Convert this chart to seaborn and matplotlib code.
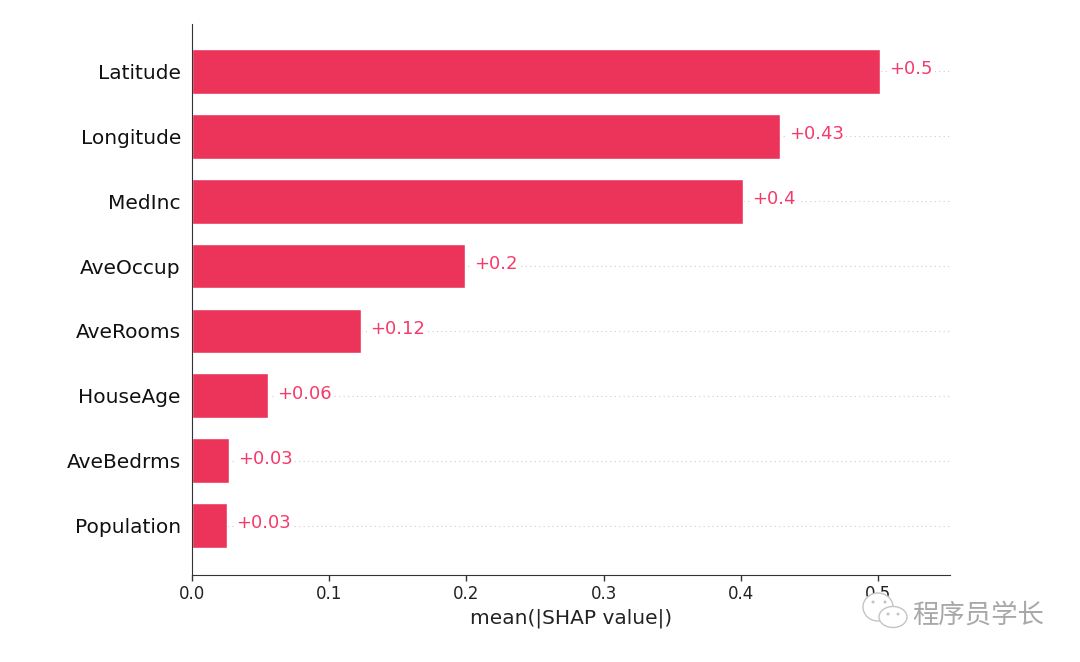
import pandas as pd
import seaborn as sns
from matplotlib import pyplot as plt
import matplotlib.patches as mpatches

features = ['Latitude', 'Longitude', 'MedInc', 'AveOccup', 'AveRooms', 'HouseAge', 'AveBedrms', 'Population']
shap_values = [0.5015, 0.4286, 0.4016, 0.199, 0.123, 0.0554, 0.027, 0.0255]
bar_labels = ['+0.5', '+0.43', '+0.4', '+0.2', '+0.12', '+0.06', '+0.03', '+0.03']
x_ticks = [0.0, 0.1, 0.2, 0.3, 0.4, 0.5]

BAR_COLOR = '#ec345a'
LABEL_COLOR = '#f53a6c'
W, H = 1080, 662

df = pd.DataFrame({'feature': features, 'value': shap_values})

sns.set_style('white')
plt.rcParams['font.family'] = ['DejaVu Sans', 'Noto Sans CJK SC']

fig = plt.figure(figsize=(W / 100, H / 100), dpi=100)
ax = fig.add_axes([192 / W, 1 - 575 / H, (950 - 192) / W, (575 - 24) / H])

sns.barplot(x='value', y='feature', data=df, color=BAR_COLOR, saturation=1, width=0.69, ax=ax)

for i, (v, lab) in enumerate(zip(shap_values, bar_labels)):
    ax.axhline(i, color='#cccccc', lw=0.8, dashes=(1, 3), zorder=0)
    t = ax.annotate(lab, (v, i), xytext=(6.5, 1.5), textcoords='offset points', va='center',
                    color=LABEL_COLOR, fontsize=13)
    t.set_bbox(dict(facecolor='white', edgecolor='none', pad=1.5))

ax.set_xlim(0, 0.5525)
ax.set_ylim(7.763, -0.732)
ax.set_xticks(x_ticks)
ax.set_xlabel('mean(|SHAP value|)', fontsize=14.5, color='#222222', labelpad=3.5)
ax.set_ylabel('')
ax.tick_params(axis='x', bottom=True, length=4, width=1, labelsize=12, labelcolor='#222222', color='#333333')
ax.tick_params(axis='y', left=False, labelsize=14.5, labelcolor='#111111', pad=4.5)

sns.despine(ax=ax)
ax.spines['left'].set_color('#333333')
ax.spines['bottom'].set_color('#333333')

# watermark in the corner
fig.text(912 / W, 1 - 615 / H, '程序员学长', fontsize=19, color='#a8a8a8', va='center',
         family=['Noto Sans CJK SC', 'DejaVu Sans'])
for cx, cy, w, h in [(878, 607, 30, 28), (893, 617, 28, 21)]:
    fig.add_artist(mpatches.Ellipse((cx / W, 1 - cy / H), w / W, h / H, transform=fig.transFigure,
                                    facecolor='white', edgecolor='#c4c4c4', lw=1))
for cx, cy in [(873, 602), (885, 602), (888, 614), (898, 614)]:
    fig.add_artist(mpatches.Ellipse((cx / W, 1 - cy / H), 3 / W, 3 / H, transform=fig.transFigure,
                                    facecolor='#c4c4c4', edgecolor='none'))

fig.savefig('out.png', dpi=100)
